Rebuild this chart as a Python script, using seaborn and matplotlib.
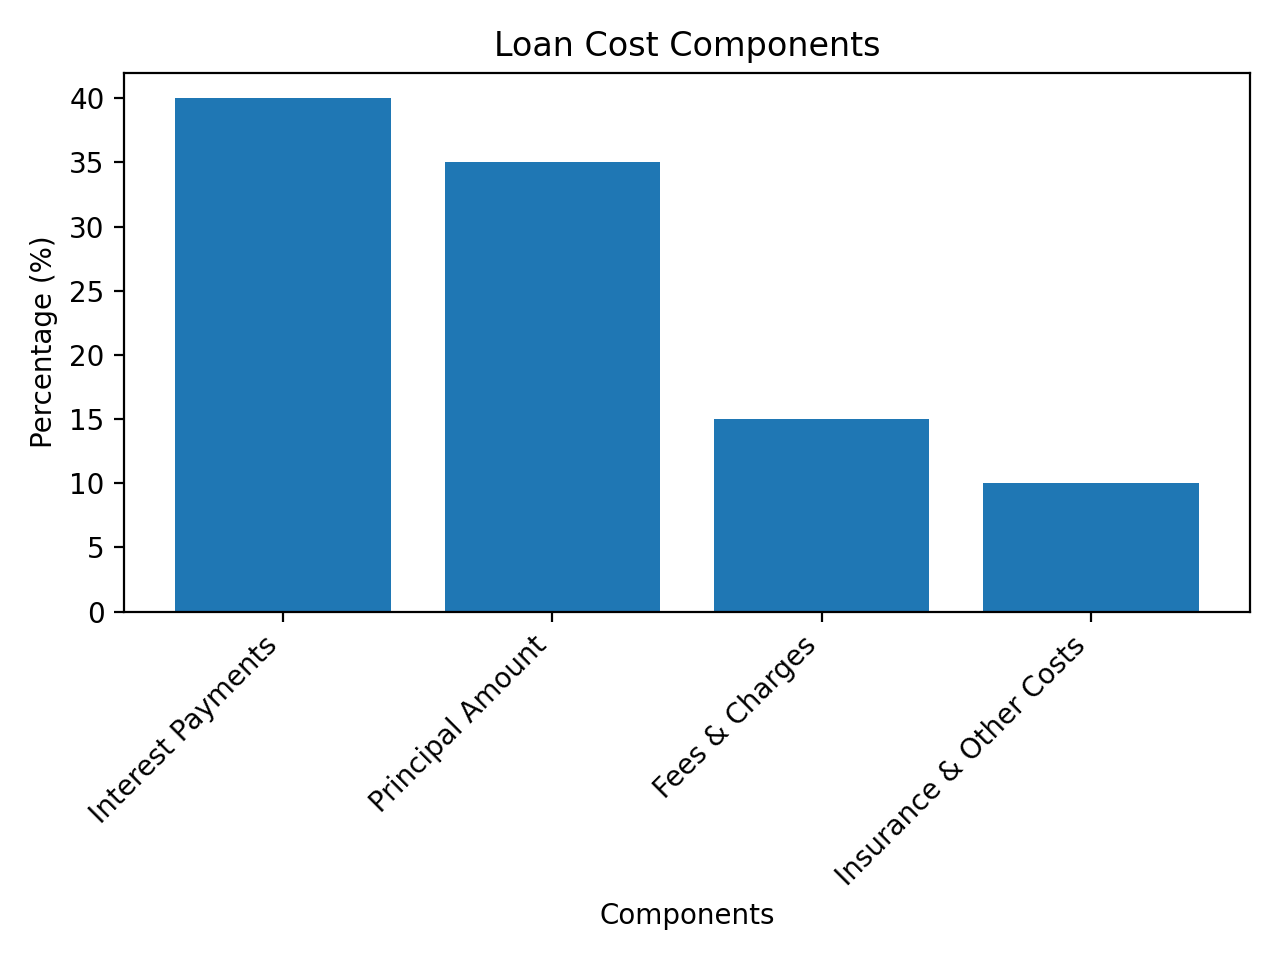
import matplotlib
matplotlib.use("Agg")
import matplotlib.pyplot as plt
import seaborn as sns
import pandas as pd

# === Data ===
components = ["Interest Payments", "Principal Amount", "Fees & Charges", "Insurance & Other Costs"]
percentages = [40, 35, 15, 10]

df = pd.DataFrame({"Components": components, "Percentage": percentages})

fig, ax = plt.subplots(figsize=(6.4, 4.8), dpi=200)
sns.barplot(data=df, x="Components", y="Percentage", color="#1f77b4",
            saturation=1, width=0.8, ax=ax)
# matplotlib's default 5% x margin instead of seaborn's categorical limits
n = len(components)
pad = 0.05 * (n - 0.2)
ax.set_xlim(-0.4 - pad, n - 0.6 + pad)
ax.set_title("Loan Cost Components")
ax.set_xlabel("Components")
ax.set_ylabel("Percentage (%)")
plt.xticks(rotation=45, ha="right")
plt.tight_layout()
plt.savefig("out.png", dpi=200)
